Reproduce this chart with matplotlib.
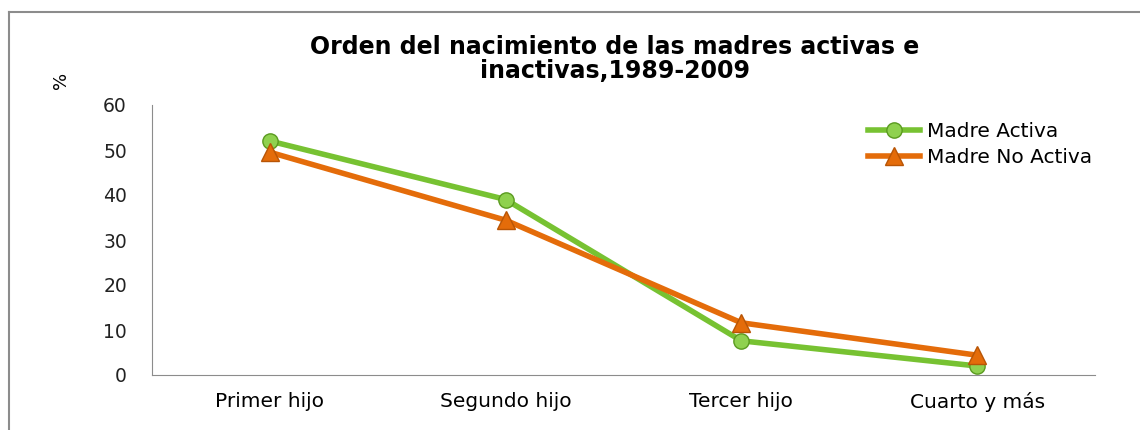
import matplotlib.pyplot as plt
from matplotlib.lines import Line2D

categorias = ["Primer hijo", "Segundo hijo", "Tercer hijo", "Cuarto y más"]
madre_activa = [52.0, 39.0, 7.6, 2.0]
madre_no_activa = [49.5, 34.4, 11.6, 4.4]

verde = "#77c232"
naranja = "#e46c0a"

fig = plt.figure(figsize=(11.4, 4.3), dpi=100)
ax = fig.add_axes([152 / 1140, 1 - 375 / 430, (1095 - 152) / 1140, (375 - 105) / 430])

# marco exterior (solo arriba e izquierda se ven en el original)
borde = "#8c8c8c"
fig.lines.append(Line2D([9 / 1140, 1.0], [1 - 12 / 430, 1 - 12 / 430], transform=fig.transFigure,
                        color=borde, linewidth=1.5))
fig.lines.append(Line2D([9 / 1140, 9 / 1140], [0, 1 - 12 / 430], transform=fig.transFigure,
                        color=borde, linewidth=1.5))

x = range(len(categorias))
ax.plot(x, madre_activa, color=verde, linewidth=4, marker="o", markersize=11,
        markerfacecolor="#8fd14f", markeredgecolor="#5a9a1f", label="Madre Activa", zorder=3)
ax.plot(x, madre_no_activa, color=naranja, linewidth=4, marker="^", markersize=13,
        markerfacecolor=naranja, markeredgecolor="#b85506", label="Madre No Activa", zorder=3)

ax.set_xlim(-0.5, 3.5)
ax.set_ylim(0, 60)
ax.set_yticks(range(0, 61, 10))
ax.set_xticks(list(x))
ax.set_xticklabels(categorias, fontsize=14.5)
ax.tick_params(axis="y", labelsize=13.5, length=0, pad=18, colors="#222222")
ax.tick_params(axis="x", length=0, pad=12)
for s in ["top", "right"]:
    ax.spines[s].set_visible(False)
ax.spines["left"].set_color(borde)
ax.spines["bottom"].set_color(borde)

fig.text(61 / 1140, 1 - 80 / 430, "%", rotation=90, fontsize=13, ha="center", va="center")
fig.text(615 / 1140, 1 - 59 / 430, "Orden del nacimiento de las madres activas e\ninactivas,1989-2009",
         ha="center", va="center", fontsize=17, fontweight="bold", linespacing=1.05)

ax.legend(loc="upper left", bbox_to_anchor=(0.74, 1.005), frameon=False, fontsize=14.5,
          handlelength=2.6, labelspacing=0.35, handletextpad=0.35)

fig.savefig("out.png", dpi=100)
